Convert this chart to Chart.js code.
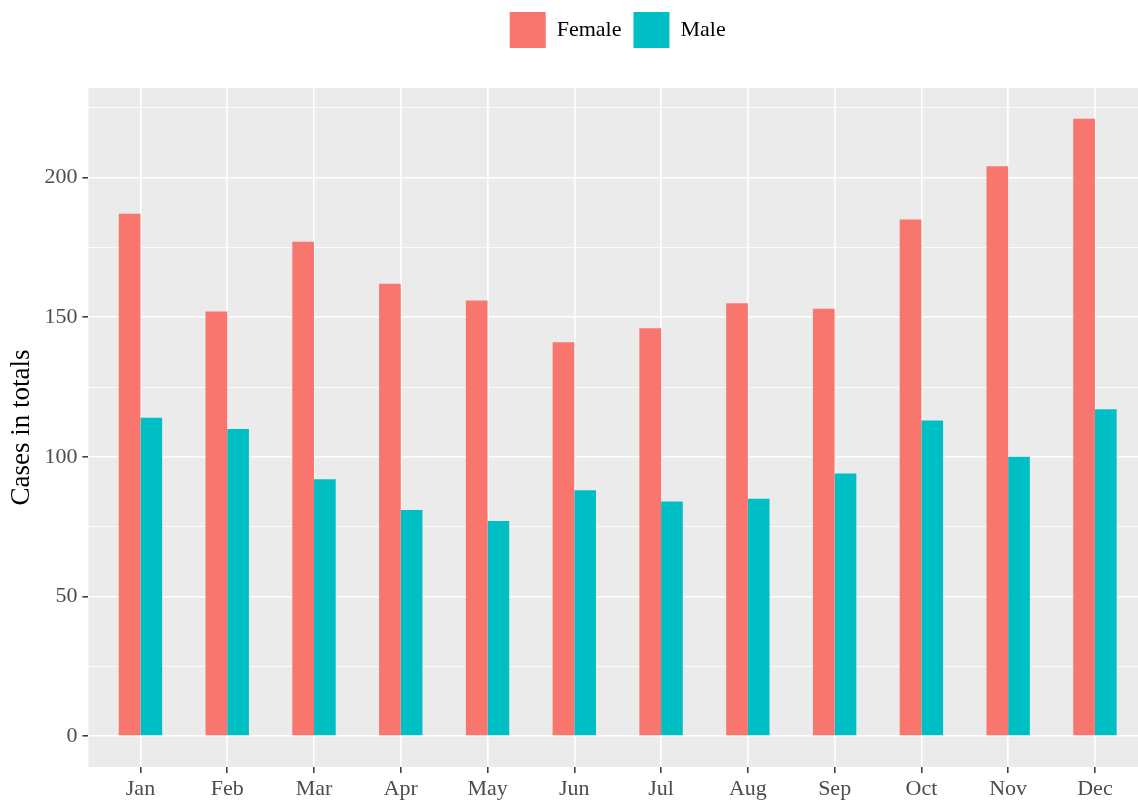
<!DOCTYPE html>
<html>
<head>
<meta charset="utf-8">
<script src="https://cdn.jsdelivr.net/npm/chart.js@4/dist/chart.umd.min.js"></script>
<style>
  body { margin: 0; background: #fff; overflow: hidden; }
  #wrap { width: 1160px; height: 800px; }
</style>
</head>
<body>
<div id="wrap"><canvas id="myGrafic"></canvas></div>
<script>
Chart.defaults.font.family = "'Liberation Serif', 'DejaVu Serif', serif";
Chart.defaults.color = '#4D4D4D';

const months = ['Jan', 'Feb', 'Mar', 'Apr', 'May', 'Jun', 'Jul', 'Aug', 'Sep', 'Oct', 'Nov', 'Dec'];
const female = [187, 152, 177, 162, 156, 141, 146, 155, 153, 185, 204, 221];
const male = [114, 110, 92, 81, 77, 88, 84, 85, 94, 113, 100, 117];
const yTicks = [0, 25, 50, 75, 100, 125, 150, 175, 200, 225];

const femaleColor = '#F8766D';
const maleColor = '#00BFC4';

// ggplot grey panel + some room under the legend
const panelBg = {
  id: 'panelBg',
  afterInit(chart) {
    const fit = chart.legend.fit;
    chart.legend.fit = function () {
      fit.call(this);
      this.height += 30;
    };
  },
  beforeDraw(chart) {
    const { ctx, chartArea: a } = chart;
    ctx.save();
    ctx.fillStyle = '#EBEBEB';
    ctx.fillRect(a.left, a.top, a.right - a.left, a.bottom - a.top);
    ctx.restore();
  }
};

const toPoints = arr => arr.map((v, i) => ({ x: i, y: v }));

const chart = new Chart(document.getElementById('myGrafic'), {
  type: 'bar',
  data: {
    datasets: [{
      label: 'Female',
      data: toPoints(female),
      backgroundColor: femaleColor,
      categoryPercentage: 0.5,
      barPercentage: 1,
    }, {
      label: 'Male',
      data: toPoints(male),
      backgroundColor: maleColor,
      categoryPercentage: 0.5,
      barPercentage: 1,
    }]
  },
  options: {
    responsive: true,
    maintainAspectRatio: false,
    animation: false,
    layout: { padding: { left: 5, right: 13, top: 0, bottom: -5 } },
    scales: {
      x: {
        type: 'linear',
        min: -0.6,
        max: 11.6,
        offset: false,
        afterBuildTicks: scale => { scale.ticks = months.map((m, i) => ({ value: i })); },
        ticks: {
          callback: v => months[v],
          font: { size: 22, lineHeight: 1.0 },
          color: '#4D4D4D',
          padding: 5,
          maxRotation: 0,
          autoSkip: false,
        },
        grid: { offset: false, color: '#FFFFFF', lineWidth: 1.6, tickColor: '#333333', tickLength: 6, tickWidth: 1.5 },
        border: { display: false },
      },
      y: {
        min: -11.05,
        max: 232.05,
        afterBuildTicks: scale => { scale.ticks = yTicks.map(v => ({ value: v })); },
        ticks: {
          callback: v => (v % 50 === 0 ? v : ''),
          font: { size: 22 },
          color: '#4D4D4D',
          padding: 5,
        },
        grid: {
          color: '#FFFFFF',
          lineWidth: ctx => (ctx.tick && ctx.tick.value % 50 === 0 ? 1.6 : 0.8),
          tickColor: ctx => (ctx.tick && ctx.tick.value % 50 === 0 ? '#333333' : 'rgba(0,0,0,0)'),
          tickWidth: 1.5,
          tickLength: 6,
        },
        border: { display: false },
        title: {
          display: true,
          text: 'Cases in totals',
          color: '#000000',
          font: { size: 27 },
          padding: { top: 1, bottom: 1 },
        },
      },
    },
    plugins: {
      legend: {
        position: 'top',
        fullSize: false,
        labels: {
          boxWidth: 36,
          boxHeight: 36,
          padding: 12,
          color: '#000000',
          font: { size: 22 },
        },
      },
      tooltip: { enabled: false },
    },
  },
  plugins: [panelBg],
});
</script>
</body>
</html>
